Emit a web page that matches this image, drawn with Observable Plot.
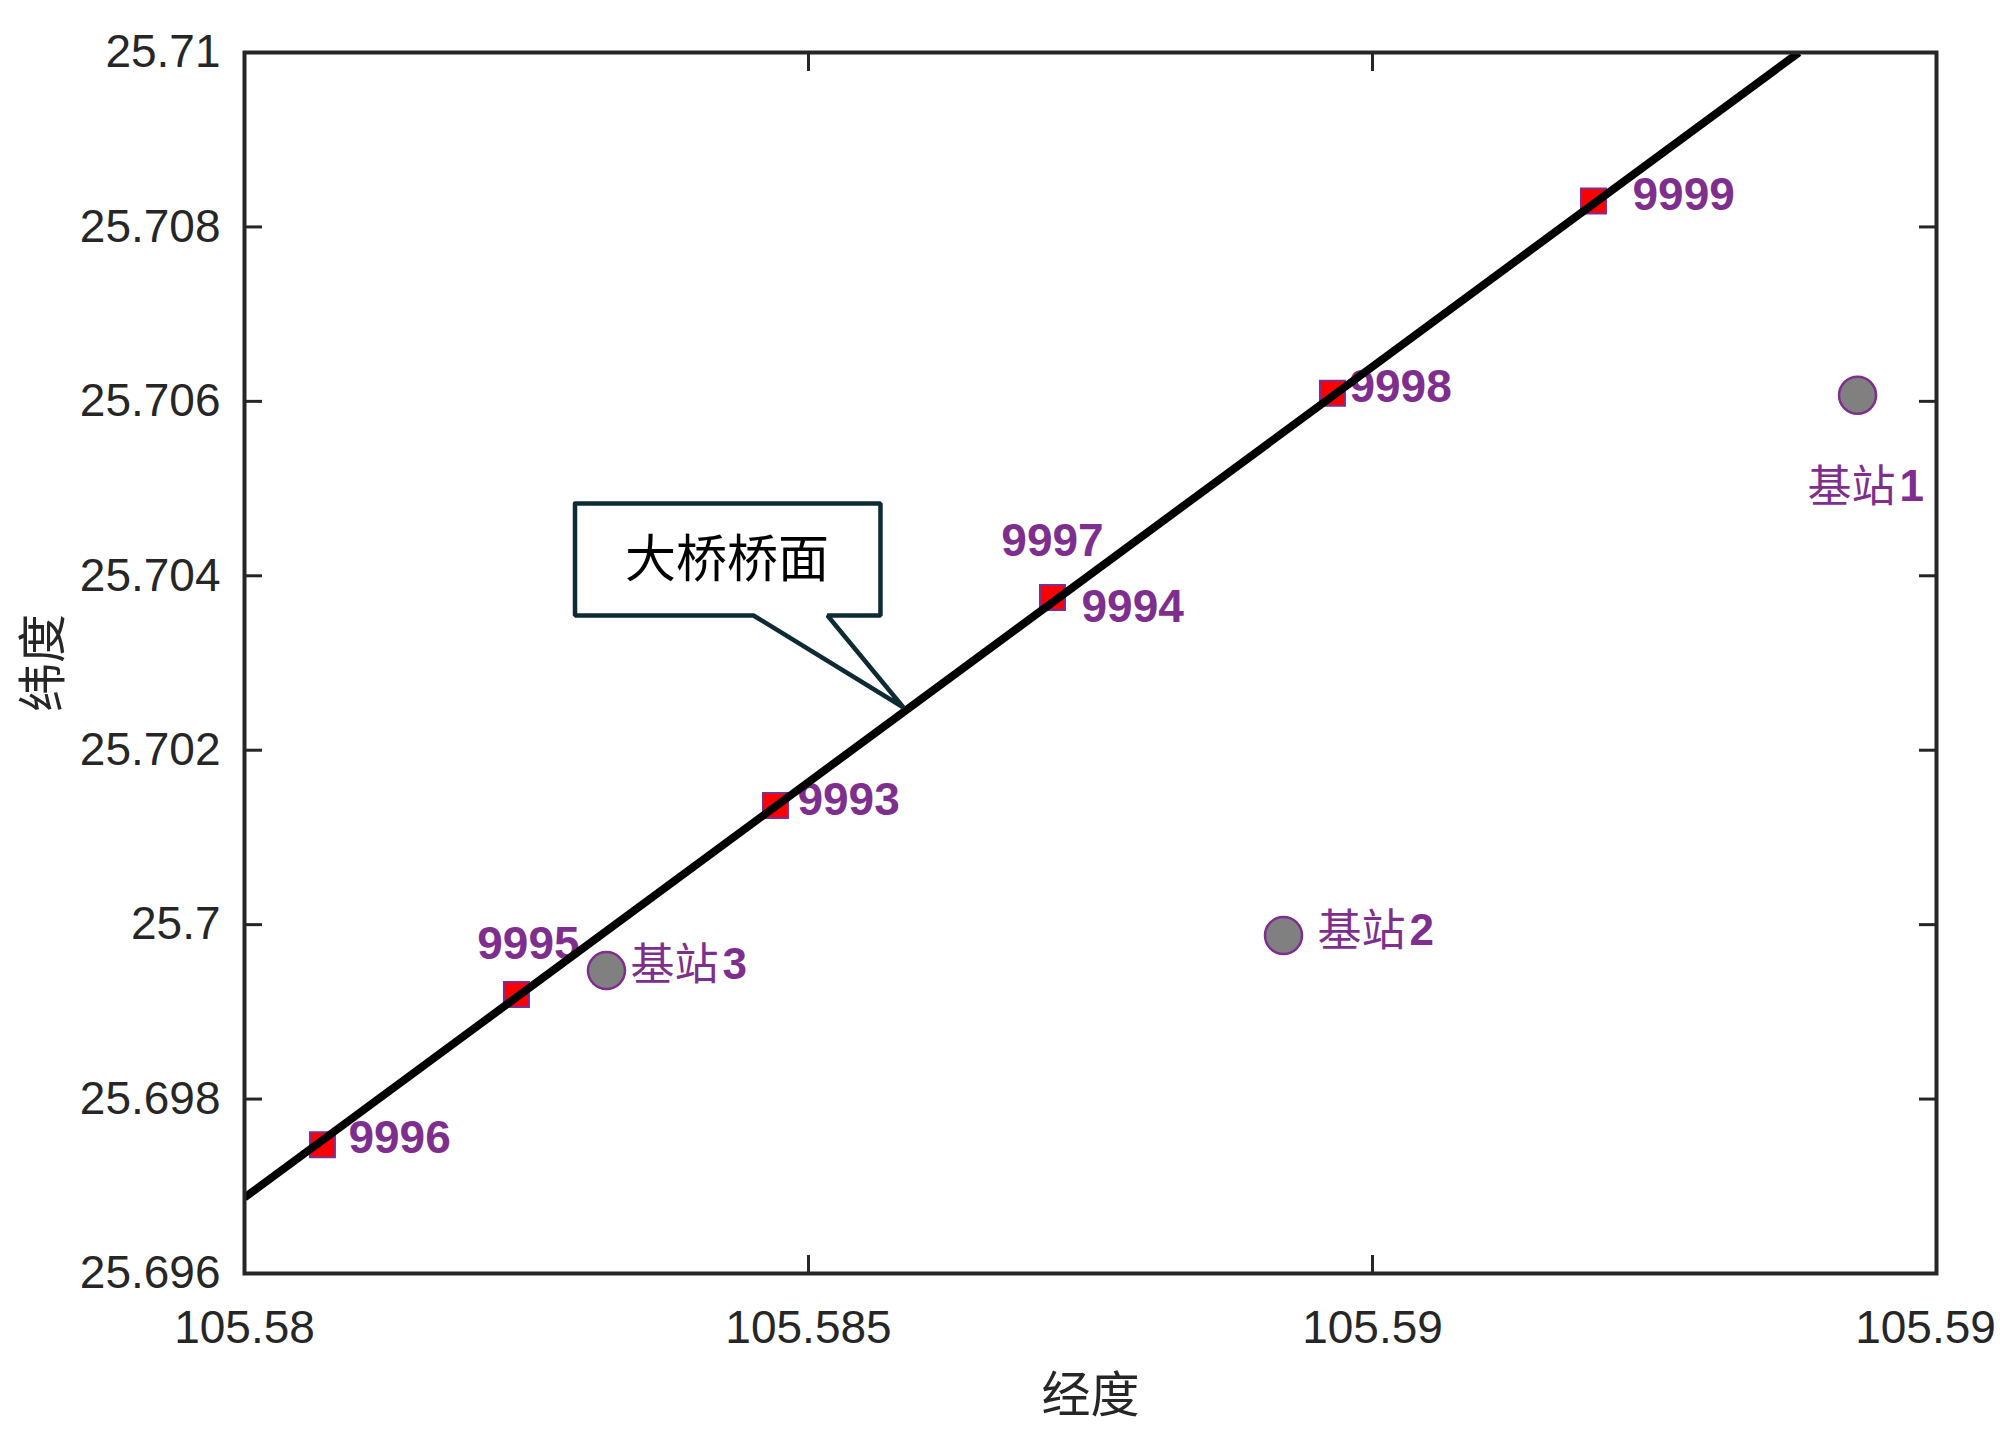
<!DOCTYPE html>
<html><head><meta charset="utf-8">
<script src="https://cdn.jsdelivr.net/npm/d3@7"></script>
<script src="https://cdn.jsdelivr.net/npm/@observablehq/plot@0.6"></script>
<style>html,body{margin:0;padding:0;background:#fff;}</style>
</head><body><div id="chart"></div>
<script>
// ---- data ----
const pointIds  = ["9993", "9994", "9995", "9996", "9997", "9998", "9999"];
const pointLon  = [105.584707, 105.587163, 105.582411, 105.580691, 105.587163, 105.589645, 105.591959];
const pointLat  = [25.701366, 25.703752, 25.699198, 25.697477, 25.703752, 25.706092, 25.708298];

const stationNames = ["基站1", "基站2", "基站3"];
const stationLon   = [105.594300, 105.589211, 105.583209];
const stationLat   = [25.706069, 25.699875, 25.699473];

const bridgeLon = [105.58, 105.59378];
const bridgeLat = [25.69687, 25.71];

const calloutText = "大桥桥面";
const calloutTextLon = 105.584278;
const calloutTextLat = 25.704176;
const calloutLon = [105.582930, 105.585638, 105.585638, 105.585168, 105.585842, 105.584512, 105.582930, 105.582930];
const calloutLat = [25.704830, 25.704830, 25.703545, 25.703545, 25.702490, 25.703545, 25.703545, 25.704830];

const xTicks = [105.58, 105.585, 105.59, 105.595];
const xTickLabels = ["105.58", "105.585", "105.59", "105.59"];
const yTicks = [25.696, 25.698, 25.7, 25.702, 25.704, 25.706, 25.708, 25.71];
const yTickLabels = ["25.696", "25.698", "25.7", "25.702", "25.704", "25.706", "25.708", "25.71"];

const xLabel = "经度";
const yLabel = "纬度";

// ---- layout (label offsets in pixels) ----
const pointLabelLayout = {
  "9993": {dx: 22, dy: -5, anchor: "start"},
  "9994": {dx: 29, dy: 10, anchor: "start"},
  "9995": {dx: 12, dy: -50, anchor: "middle"},
  "9996": {dx: 26, dy: -6, anchor: "start"},
  "9997": {dx: 0, dy: -56, anchor: "middle"},
  "9998": {dx: 17, dy: -6, anchor: "start"},
  "9999": {dx: 39, dy: -6, anchor: "start"}
};
const stationLabelLayout = {
  "基站1": {dx: -50, dy: 93},
  "基站2": {dx: 34, dy: -4},
  "基站3": {dx: 24, dy: -5}
};

const points = pointIds.map((id, i) => ({id, lon: pointLon[i], lat: pointLat[i]}));
const stations = stationNames.map((name, i) => ({name, lon: stationLon[i], lat: stationLat[i]}));
const bridge = bridgeLon.map((lon, i) => ({lon, lat: bridgeLat[i]}));
const callout = calloutLon.map((lon, i) => ({lon, lat: calloutLat[i]}));

const PURPLE = "#7e2f8e";
const AXIS = "#262626";
const SANS = "'Liberation Sans', Arial, sans-serif";
const CJK = "'Noto Sans CJK SC', sans-serif";

const pointLabelMarks = points.map(p => {
  const L = pointLabelLayout[p.id];
  return Plot.text([p], {x: "lon", y: "lat", text: "id", dx: L.dx, dy: L.dy, textAnchor: L.anchor,
    lineAnchor: "middle", fill: PURPLE, fontSize: 46, fontWeight: "bold", fontFamily: SANS});
});
const stationLabelMarks = stations.flatMap(s => {
  const L = stationLabelLayout[s.name];
  return [
    Plot.text([s], {x: "lon", y: "lat", text: d => d.name.slice(0, 2), dx: L.dx, dy: L.dy, textAnchor: "start",
      lineAnchor: "middle", fill: PURPLE, fontSize: 44, fontFamily: CJK}),
    Plot.text([s], {x: "lon", y: "lat", text: d => d.name.slice(2), dx: L.dx + 92, dy: L.dy - 1, textAnchor: "start",
      lineAnchor: "middle", fill: PURPLE, fontSize: 44, fontWeight: "bold", fontFamily: SANS})
  ];
});

const lastX = xTicks[xTicks.length - 1];

const chart = Plot.plot({
  width: 2000,
  height: 1445,
  marginLeft: 244,
  marginRight: 64,
  marginTop: 52,
  marginBottom: 172,
  style: {fontFamily: SANS, background: "white", color: AXIS},
  x: {domain: [105.58, 105.595], label: null},
  y: {domain: [25.696, 25.71], label: null},
  marks: [
    // tick labels
    Plot.axisX(xTicks.slice(0, -1), {anchor: "bottom", tickSize: 0, tickPadding: 37, stroke: "none",
      tickFormat: d => xTickLabels[xTicks.indexOf(d)], fontSize: 46, fill: AXIS, label: null}),
    Plot.axisX([lastX], {anchor: "bottom", tickSize: 0, tickPadding: 37, stroke: "none", dx: -11,
      tickFormat: d => xTickLabels[xTicks.indexOf(d)], fontSize: 46, fill: AXIS, label: null}),
    Plot.axisY(yTicks, {anchor: "left", tickSize: 0, tickPadding: 24, stroke: "none",
      tickFormat: d => yTickLabels[yTicks.indexOf(d)], fontSize: 46, fill: AXIS, label: null}),
    // inward ticks on all sides
    Plot.axisX(xTicks, {anchor: "bottom", tickSize: -18, fill: "none", stroke: AXIS, strokeWidth: 3, label: null}),
    Plot.axisX(xTicks, {anchor: "top", tickSize: -18, fill: "none", stroke: AXIS, strokeWidth: 3, label: null}),
    Plot.axisY(yTicks, {anchor: "left", tickSize: -18, fill: "none", stroke: AXIS, strokeWidth: 3, label: null}),
    Plot.axisY(yTicks, {anchor: "right", tickSize: -18, fill: "none", stroke: AXIS, strokeWidth: 3, label: null}),
    // axis titles
    Plot.text([xLabel], {frameAnchor: "bottom", dy: 123, textAnchor: "middle", lineAnchor: "middle", fontSize: 49, fontFamily: CJK, fill: AXIS}),
    Plot.text([yLabel], {frameAnchor: "left", dx: -200, rotate: -90, textAnchor: "middle", lineAnchor: "middle", fontSize: 49, fontFamily: CJK, fill: AXIS}),
    // markers
    Plot.dot(points, {x: "lon", y: "lat", symbol: "square", r: 14.1, fill: "#ff0000", stroke: PURPLE, strokeWidth: 2}),
    Plot.dot(stations, {x: "lon", y: "lat", symbol: "circle", r: 18.5, fill: "#808080", stroke: PURPLE, strokeWidth: 2.5}),
    ...pointLabelMarks,
    ...stationLabelMarks,
    // bridge line
    Plot.line(bridge, {x: "lon", y: "lat", stroke: "black", strokeWidth: 8, strokeLinecap: "butt", clip: true}),
    // callout
    Plot.line(callout, {x: "lon", y: "lat", stroke: "#0e2a35", strokeWidth: 4.5, fill: "white", strokeLinejoin: "miter", curve: "linear"}),
    Plot.text([calloutText], {x: () => calloutTextLon, y: () => calloutTextLat, lineAnchor: "middle", fontSize: 51, fontFamily: CJK, fill: "black"}),
    Plot.frame({stroke: AXIS, strokeWidth: 4})
  ]
});
document.getElementById("chart").appendChild(chart);
</script>
</body></html>
